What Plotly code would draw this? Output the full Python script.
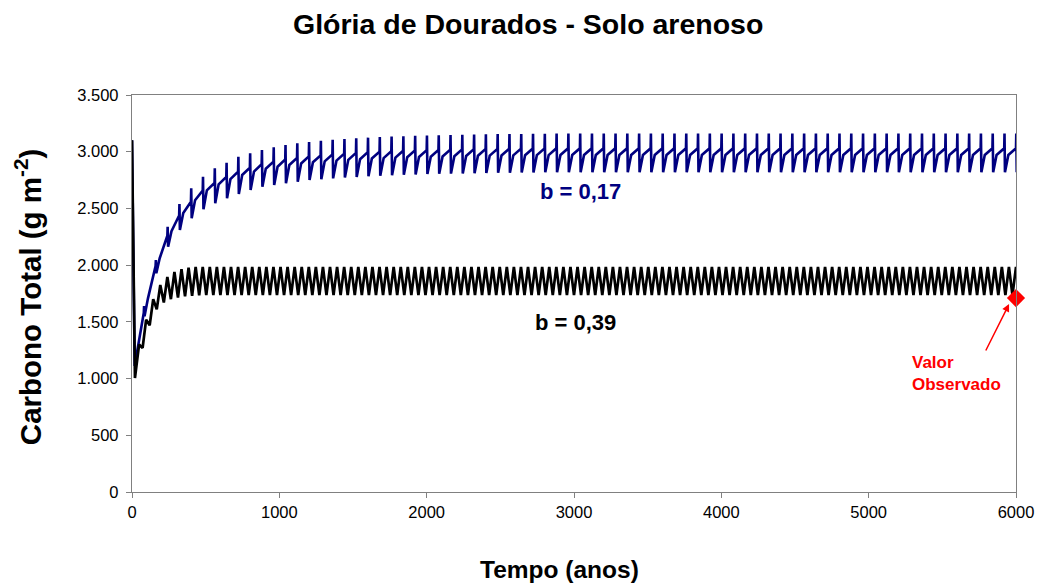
import plotly.graph_objects as go

# ---- Data (years, g C m^-2) -------------------------------------------------
start_year = 0
start_value = 3100

# b = 0,17 : initial fall, then one disturbance spike every 80 years
blue_min_year, blue_min_value = 18, 1110
blue_period = 80
blue_spike_years = list(range(80, 6001, blue_period))
# level just before each spike
blue_pre = [
    1580, 1992, 2260, 2438, 2558, 2658, 2724, 2777, 2824, 2860,
    2889, 2912, 2931, 2946, 2958, 2968, 2976, 2983, 2989, 2995,
    3000, 3004, 3008, 3011, 3014, 3016, 3018, 3020, 3022, 3024,
    3025, 3026, 3027, 3028, 3029, 3030, 3030, 3030, 3030, 3030,
    3030, 3030, 3030, 3030, 3030, 3030, 3030, 3030, 3030, 3030,
    3030, 3030, 3030, 3030, 3030, 3030, 3030, 3030, 3030, 3030,
    3030, 3030, 3030, 3030, 3030, 3030, 3030, 3030, 3030, 3030,
    3030, 3030, 3030, 3030, 3030,
]
# spike top
blue_peak = [
    1640, 2045, 2339, 2539, 2677, 2780, 2853, 2903, 2956, 2986,
    3015, 3039, 3059, 3074, 3086, 3097, 3105, 3112, 3118, 3124,
    3129, 3133, 3137, 3140, 3143, 3145, 3148, 3150, 3152, 3154,
    3155, 3156, 3157, 3158, 3159, 3160, 3160, 3160, 3160, 3160,
    3160, 3160, 3160, 3160, 3160, 3160, 3160, 3160, 3160, 3160,
    3160, 3160, 3160, 3160, 3160, 3160, 3160, 3160, 3160, 3160,
    3160, 3160, 3160, 3160, 3160, 3160, 3160, 3160, 3160, 3160,
    3160, 3160, 3160, 3160, 3160,
]
# low point right after the spike
blue_trough = [
    1550, 1928, 2163, 2310, 2413, 2492, 2545, 2589, 2627, 2662,
    2691, 2706, 2721, 2736, 2750, 2757, 2765, 2772, 2778, 2784,
    2789, 2793, 2797, 2800, 2803, 2805, 2807, 2809, 2811, 2813,
    2814, 2815, 2816, 2817, 2818, 2820, 2820, 2820, 2820, 2820,
    2820, 2820, 2820, 2820, 2820, 2820, 2820, 2820, 2820, 2820,
    2820, 2820, 2820, 2820, 2820, 2820, 2820, 2820, 2820, 2820,
    2820, 2820, 2820, 2820, 2820, 2820, 2820, 2820, 2820, 2820,
    2820, 2820, 2820, 2820, 2820,
]
# value part-way through the recovery
blue_mid = [
    1705, 2061, 2300, 2459, 2572, 2659, 2712, 2758, 2795, 2825,
    2850, 2868, 2883, 2896, 2907, 2915, 2922, 2928, 2934, 2940,
    2944, 2948, 2951, 2954, 2956, 2958, 2960, 2962, 2964, 2966,
    2967, 2968, 2969, 2970, 2970, 2971, 2971, 2971, 2971, 2971,
    2971, 2971, 2971, 2971, 2971, 2971, 2971, 2971, 2971, 2971,
    2971, 2971, 2971, 2971, 2971, 2971, 2971, 2971, 2971, 2971,
    2971, 2971, 2971, 2971, 2971, 2971, 2971, 2971, 2971, 2971,
    2971, 2971, 2971, 2971, 2971,
]

# b = 0,39 : oscillation with a 48-year cycle
black_min_year, black_min_value = 20, 1005
black_period = 48
black_peak_years = list(range(48, 6001, black_period))
black_peak = [
    1300, 1520, 1700, 1825, 1895, 1940, 1965, 1978, 1984, 1985,
    1985, 1985, 1985, 1985, 1985, 1985, 1985, 1985, 1985, 1985,
    1985, 1985, 1985, 1985, 1985, 1985, 1985, 1985, 1985, 1985,
    1985, 1985, 1985, 1985, 1985, 1985, 1985, 1985, 1985, 1985,
    1985, 1985, 1985, 1985, 1985, 1985, 1985, 1985, 1985, 1985,
    1985, 1985, 1985, 1985, 1985, 1985, 1985, 1985, 1985, 1985,
    1985, 1985, 1985, 1985, 1985, 1985, 1985, 1985, 1985, 1985,
    1985, 1985, 1985, 1985, 1985, 1985, 1985, 1985, 1985, 1985,
    1985, 1985, 1985, 1985, 1985, 1985, 1985, 1985, 1985, 1985,
    1985, 1985, 1985, 1985, 1985, 1985, 1985, 1985, 1985, 1985,
    1985, 1985, 1985, 1985, 1985, 1985, 1985, 1985, 1985, 1985,
    1985, 1985, 1985, 1985, 1985, 1985, 1985, 1985, 1985, 1985,
    1985, 1985, 1985, 1985, 1985,
]
black_trough = [
    1270, 1470, 1610, 1670, 1700, 1715, 1725, 1730, 1734, 1735,
    1735, 1735, 1735, 1735, 1735, 1735, 1735, 1735, 1735, 1735,
    1735, 1735, 1735, 1735, 1735, 1735, 1735, 1735, 1735, 1735,
    1735, 1735, 1735, 1735, 1735, 1735, 1735, 1735, 1735, 1735,
    1735, 1735, 1735, 1735, 1735, 1735, 1735, 1735, 1735, 1735,
    1735, 1735, 1735, 1735, 1735, 1735, 1735, 1735, 1735, 1735,
    1735, 1735, 1735, 1735, 1735, 1735, 1735, 1735, 1735, 1735,
    1735, 1735, 1735, 1735, 1735, 1735, 1735, 1735, 1735, 1735,
    1735, 1735, 1735, 1735, 1735, 1735, 1735, 1735, 1735, 1735,
    1735, 1735, 1735, 1735, 1735, 1735, 1735, 1735, 1735, 1735,
    1735, 1735, 1735, 1735, 1735, 1735, 1735, 1735, 1735, 1735,
    1735, 1735, 1735, 1735, 1735, 1735, 1735, 1735, 1735, 1735,
    1735, 1735, 1735, 1735,
]

observed_year, observed_value = 6000, 1710

x_ticks = [0, 1000, 2000, 3000, 4000, 5000, 6000]
y_ticks = [0, 500, 1000, 1500, 2000, 2500, 3000, 3500]

# ---- Build the line series ---------------------------------------------------
bx, by = [start_year, blue_min_year], [start_value, blue_min_value]
for i, t in enumerate(blue_spike_years):
    bx += [t, t + 2, t + 5]
    by += [blue_pre[i], blue_peak[i], blue_trough[i]]
    if i + 1 < len(blue_spike_years):
        bx.append(t + 28)
        by.append(blue_mid[i])

kx, ky = [start_year, black_min_year], [start_value, black_min_value]
for i, t in enumerate(black_peak_years):
    kx.append(t)
    ky.append(black_peak[i])
    if i < len(black_trough):
        kx.append(t + black_period / 2)
        ky.append(black_trough[i])

font_family = "Liberation Sans, Arial, sans-serif"

fig = go.Figure()
fig.add_trace(go.Scatter(x=bx, y=by, mode="lines",
                         line=dict(color="#000080", width=2.6),
                         hoverinfo="skip", showlegend=False))
fig.add_trace(go.Scatter(x=kx, y=ky, mode="lines",
                         line=dict(color="#000000", width=2.7),
                         hoverinfo="skip", showlegend=False))
fig.add_trace(go.Scatter(x=[observed_year], y=[observed_value], mode="markers",
                         marker=dict(symbol="diamond", size=14, color="#FF0000"),
                         cliponaxis=False, hoverinfo="skip", showlegend=False))

axis_common = dict(
    showgrid=False, zeroline=False,
    showline=True, linecolor="#808080", linewidth=1.3, mirror=True,
    ticks="outside", ticklen=5, tickcolor="#808080", tickwidth=1.3,
    tickfont=dict(family=font_family, size=16.5, color="#000000"),
)

fig.update_layout(
    width=1048, height=585,
    paper_bgcolor="white", plot_bgcolor="white",
    margin=dict(l=132, r=32, t=95, b=93),
    separators=",.",
    title=dict(text="<b>Glória de Dourados - Solo arenoso</b>",
               x=0.504, xanchor="center", y=1 - 24 / 585, yanchor="middle",
               font=dict(family=font_family, size=28.5, color="#000000")),
    xaxis=dict(range=[0, 6000], tickvals=x_ticks, **axis_common),
    yaxis=dict(range=[0, 3500], tickvals=y_ticks, tickformat=",d",
               ticklabelstandoff=4, **axis_common),
    annotations=[
        dict(text="<b>Tempo (anos)</b>", xref="paper", yref="paper",
             x=0.484, y=-0.194, showarrow=False, xanchor="center", yanchor="middle",
             font=dict(family=font_family, size=24.5, color="#000000")),
        dict(text="<b>Carbono Total (g m<sup>-2</sup>)</b>", xref="paper", yref="paper",
             x=-0.118, y=0.49, showarrow=False, textangle=-90,
             xanchor="center", yanchor="middle",
             font=dict(family=font_family, size=29.5, color="#000000")),
        dict(text="<b>b = 0,17</b>", x=3047, y=2645, showarrow=False,
             font=dict(family=font_family, size=22, color="#000080")),
        dict(text="<b>b = 0,39</b>", x=3007, y=1490, showarrow=False,
             font=dict(family=font_family, size=22, color="#000000")),
        dict(text="<b>Valor<br>Observado</b>", x=5281, y=1049, showarrow=False,
             xanchor="left", yanchor="middle", align="left",
             font=dict(family=font_family, size=17, color="#FF0000")),
        dict(text="", x=5953, y=1657, ax=5790, ay=1234,
             axref="x", ayref="y", showarrow=True,
             arrowhead=2, arrowsize=1, arrowwidth=1.5, arrowcolor="#FF0000"),
    ],
)

fig.write_html("out.html")
